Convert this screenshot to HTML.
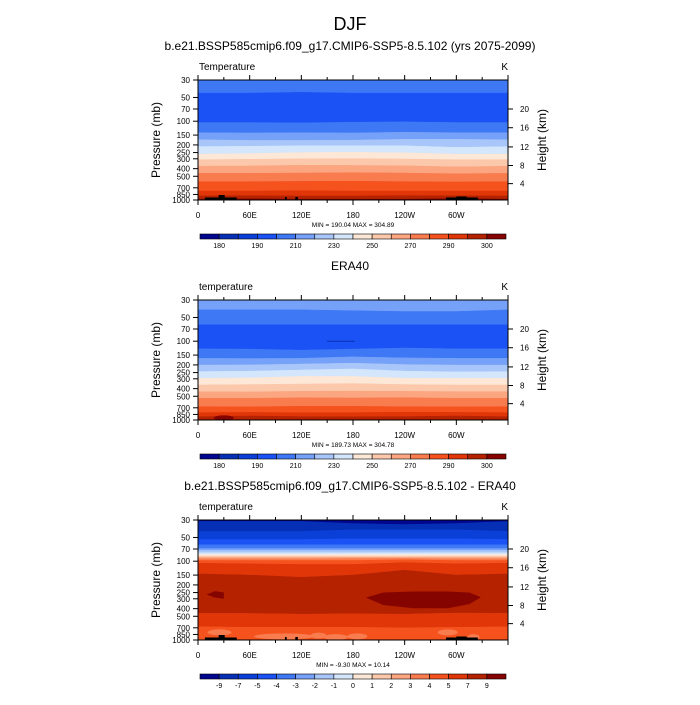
<!DOCTYPE html>
<html><head><meta charset="utf-8">
<style>
html,body{margin:0;padding:0;background:#fff;}
svg text{font-family:"Liberation Sans",sans-serif;fill:#000;}
</style></head>
<body>
<svg id="chart" width="700" height="700" viewBox="0 0 700 700" xmlns="http://www.w3.org/2000/svg">
<text x="350" y="30" font-size="18" text-anchor="middle">DJF</text>
</svg>
<script>
// ---- data ----
const colors = ['#00078e','#0530b5','#0a40d8','#1a52f5','#3e78f5','#76a1f8','#a8c6f9','#d3e6fb','#fde7d6','#fbc8ab','#fba680','#f97c4f','#f5521e','#e03608','#b52200','#860400'];
const lons = [0,60,120,180,240,300,360];
const topLabels = ['','180','','190','','210','','230','','250','','270','','290','','300',''];
const diffLabels = ['','-9','-7','-5','-4','-3','-2','-1','0','1','2','3','4','5','7','9',''];
const p1Colors = [4,3,4,5,6,7,8,9,10,11,12,13,14,15];
const p1Bounds = [
 [44,44,43,44,44,44,44],[104,104,105,103,102,104,104],[140,141,140,141,138,140,140],
 [172,175,175,174,170,170,172],[210,208,205,205,205,215,210],[262,258,250,248,252,262,262],
 [308,304,300,298,302,308,308],[372,370,362,364,368,380,372],[458,458,455,450,455,465,458],
 [585,585,580,578,585,590,585],[770,770,760,770,770,770,770],[888,880,890,890,880,885,888],
 [975,965,975,975,975,960,975]];
const p2Colors = [5,4,3,4,5,6,7,8,9,10,11,12,13,14];
const p2Bounds = [
 [40,40,40,41,42,42,40],[62,62,62,62,62,62,62],[125,126,130,126,122,125,125],
 [165,166,165,158,163,165,165],[201,200,195,190,198,201,201],[243,240,232,225,240,245,243],
 [296,292,280,280,295,296,296],[360,355,350,345,355,360,360],[437,440,432,430,432,437,437],
 [530,530,522,525,520,530,530],[678,680,670,670,678,680,678],[806,800,810,806,795,800,806],
 [908,890,905,908,905,890,908]];
const p3Colors = [1,2,3,4,5,6,7,8,9,10,11,12,13,14,13,12];
const p3Bounds = [
 [42,42,42,40,40,40,42],[53,53,53,52,52,52,53],[62,62,62,62,62,62,62],[69,69,69,69,69,69,69],
 [73,73,73,73,73,73,73],[78,78,78,78,78,78,78],[82,82,82,82,82,82,82],[86,86,86,86,86,86,86],
 [89,89,89,89,89,89,89],[93,93,93,92,92,93,93],[98,98,98,98,96,98,98],[106,108,110,110,104,108,106],
 [145,150,160,150,130,150,145],[458,460,470,465,470,455,458],[680,690,690,690,700,690,680]];
const p3TopDark = [31,31,31,33,34,33,31];
const p3Blob = {lon:[195,215,250,290,315,328], top:[290,250,242,242,250,285], bot:[290,360,395,395,350,290]};
const p3Blob2 = {lon:[10,20,30], top:[265,240,250], bot:[265,290,300]};
const p3Light = {lon:[25,100,160,185,290,320,140], pres:[800,900,920,900,800,920,880], rx:[12,30,12,10,10,6,8]};
const heights = [4,8,12,16,20];
const hPress = [620,365,212,121,70];
const pTicks = [30,50,70,100,150,200,250,300,400,500,700,850,1000];
const xTickLabels = ['0','60E','120E','180','120W','60W'];

const svg = document.getElementById('chart');
const NS='http://www.w3.org/2000/svg';
function mk(tag,attrs,parent){const e=document.createElementNS(NS,tag);for(const k in attrs)e.setAttribute(k,attrs[k]);(parent||svg).appendChild(e);return e;}
const X0=198,X1=508;
function xs(lon){return X0+(X1-X0)*lon/360;}
function ysF(top){return p=>top+120*Math.log(p/30)/Math.log(1000/30);}

function panel(top,title,left,colorIdx,bounds,minmax,labels,topo,extra){
  const ys=ysF(top);
  const g=mk('g',{});
  
  
  const t=mk('text',{x:350,y:top-30,'font-size':12,'text-anchor':'middle'},g);t.textContent=title;
  
  const ls=mk('text',{x:199,y:top-10,'font-size':10},g);ls.textContent=left;
  
  const ks=mk('text',{x:508,y:top-10,'font-size':10,'text-anchor':'end'},g);ks.textContent='K';
  
  for(let i=0;i<colorIdx.length;i++){
    const upper=i===0?lons.map(()=>30):bounds[i-1];
    const lower=i===colorIdx.length-1?lons.map(()=>1000):bounds[i];
    let pts=[];
    lons.forEach((l,j)=>pts.push(xs(l)+','+ys(upper[j])));
    for(let j=lons.length-1;j>=0;j--)pts.push(xs(lons[j])+','+ys(lower[j]));
    const pg=mk('polygon',{points:pts.join(' '),fill:colors[colorIdx[i]],stroke:colors[colorIdx[i]],'stroke-width':0.5},g);
    
  }
  if(extra)extra(g,ys);
  if(topo){
    [[8,45,2.5],[24,31,5],[288,325,2.5],[300,312,3.5],[101,103,3],[113,116,3]].forEach(r=>{
      const rr=mk('rect',{x:xs(r[0]),y:top+120-r[2],width:xs(r[1])-xs(r[0]),height:r[2],fill:'#000'},g);
      
    });
  }
  const fr=mk('rect',{x:X0,y:top,width:X1-X0,height:120,fill:'none',stroke:'#000','stroke-width':1},g);
  
  for(let l=0;l<=360;l+=30){
    const major=l%60===0, len=major?5:3;
    mk('line',{x1:xs(l),x2:xs(l),y1:top+120,y2:top+120+len,stroke:'#000'},g);
    mk('line',{x1:xs(l),x2:xs(l),y1:top,y2:top-len,stroke:'#000'},g);
    if(major&&l<360){const tx=mk('text',{x:xs(l),y:top+138,'font-size':8,'text-anchor':'middle'},g);tx.textContent=xTickLabels[l/60];
      }
  }
  pTicks.forEach(p=>{
    mk('line',{x1:X0,x2:X0-5,y1:ys(p),y2:ys(p),stroke:'#000'},g);
    const tx=mk('text',{x:X0-8,y:ys(p)+3,'font-size':8,'text-anchor':'end'},g);tx.textContent=p;
    
  });
  heights.forEach((h,i)=>{
    const y=ys(hPress[i]);
    mk('line',{x1:X1,x2:X1+5,y1:y,y2:y,stroke:'#000'},g);
    const tx=mk('text',{x:X1+12,y:y+3,'font-size':8},g);tx.textContent=h;
    
  });
  const yl=mk('text',{x:0,y:0,'font-size':12,'text-anchor':'middle',transform:`translate(160,${top+60}) rotate(-90)`},g);yl.textContent='Pressure (mb)';
  
  const yr=mk('text',{x:0,y:0,'font-size':12,'text-anchor':'middle',transform:`translate(546,${top+60}) rotate(-90)`},g);yr.textContent='Height (km)';
  
  const mm=mk('text',{x:353,y:top+147,'font-size':6.5,'text-anchor':'middle'},g);mm.textContent=minmax;
  
  const cy=top+154, cw=(506-200)/16;
  for(let i=0;i<16;i++){
    const b=mk('rect',{x:200+i*cw,y:cy,width:cw,height:5,fill:colors[i],stroke:'#000','stroke-width':0.6},g);
    
  }
  labels.forEach((s,i)=>{if(!s)return;
    const tx=mk('text',{x:200+i*cw,y:cy+14,'font-size':7,'text-anchor':'middle'},g);tx.textContent=s;
    });
}
panel(80,'b.e21.BSSP585cmip6.f09_g17.CMIP6-SSP5-8.5.102 (yrs 2075-2099)','Temperature',p1Colors,p1Bounds,'MIN = 190.04  MAX = 304.89',topLabels,true);
panel(300,'ERA40','temperature',p2Colors,p2Bounds,'MIN = 189.73  MAX = 304.78',topLabels,false,(g,ys)=>{
  mk('line',{x1:xs(150),x2:xs(182),y1:ys(100),y2:ys(100),stroke:'#0a30b0','stroke-width':1},g);
  const e=mk('ellipse',{cx:xs(30),cy:ys(940),rx:10,ry:2.5,fill:colors[15]},g);
  
});
panel(520,'b.e21.BSSP585cmip6.f09_g17.CMIP6-SSP5-8.5.102 - ERA40','temperature',p3Colors,p3Bounds,'MIN =  -9.30  MAX =  10.14',diffLabels,true,(g,ys)=>{
  let pts=lons.map((l,j)=>xs(l)+','+ys(30));
  for(let j=lons.length-1;j>=0;j--)pts.push(xs(lons[j])+','+ys(p3TopDark[j]));
  mk('polygon',{points:pts.join(' '),fill:colors[0]},g);
  [p3Blob,p3Blob2].forEach(b=>{
    let q=b.lon.map((l,j)=>xs(l)+','+ys(b.top[j]));
    for(let j=b.lon.length-1;j>=0;j--)q.push(xs(b.lon[j])+','+ys(b.bot[j]));
    const pg=mk('polygon',{points:q.join(' '),fill:colors[15]},g);
    
  });
  p3Light.lon.forEach((l,i)=>{
    const e=mk('ellipse',{cx:xs(l),cy:ys(p3Light.pres[i]),rx:p3Light.rx[i],ry:3,fill:colors[11]},g);
    
  });
});
</script>
</body></html>
